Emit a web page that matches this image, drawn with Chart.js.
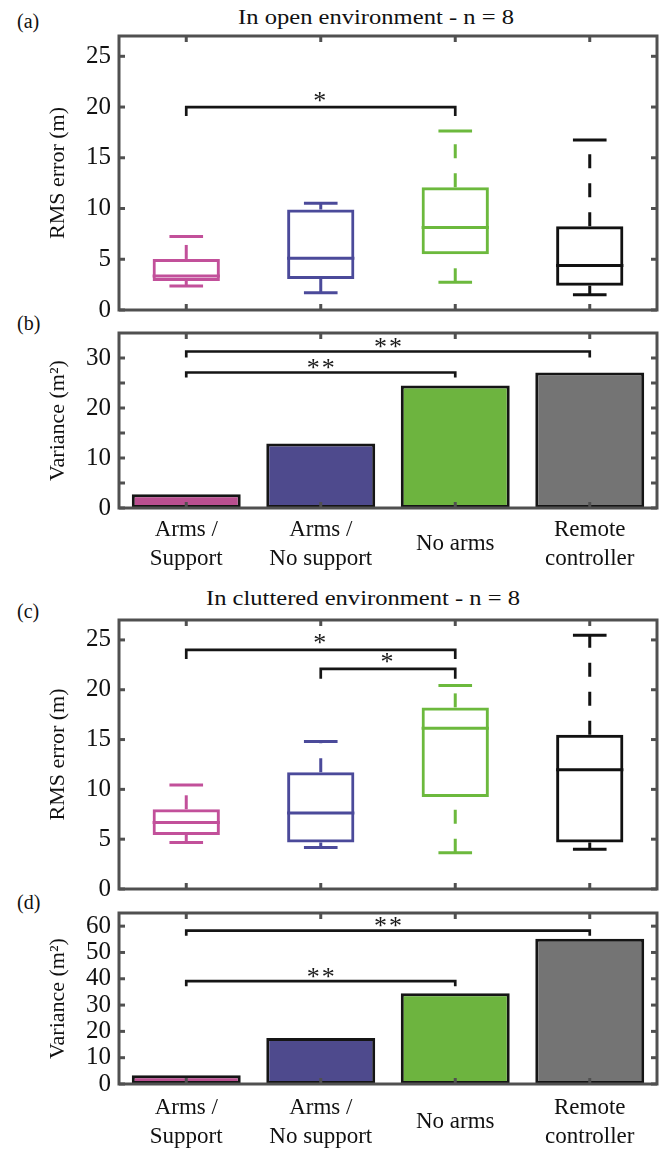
<!DOCTYPE html>
<html>
<head>
<meta charset="utf-8">
<script src="https://cdn.jsdelivr.net/npm/chart.js@4.4.1/dist/chart.umd.min.js"></script>
<style>
  body { margin: 0; background: #fff; }
  #fig { position: relative; width: 662px; height: 1150px; overflow: hidden; background: #fff;
         font-family: "Liberation Serif", "Times New Roman", serif; color: #111; }
  #fig canvas { position: absolute; left: 0; }
  .tag { position: absolute; font-size: 20px; line-height: 20px; }
  .ttl { position: absolute; font-size: 21px; line-height: 23px; white-space: nowrap;
         transform: translateX(-50%) scaleX(1.17); }
</style>
</head>
<body>
<div id="fig">
  <div class="tag" style="left:17px;top:11px">(a)</div>
  <div class="ttl" style="left:376px;top:6px">In open environment - n = 8</div>
  <div class="tag" style="left:17px;top:313px">(b)</div>
  <div class="tag" style="left:17px;top:601px">(c)</div>
  <div class="ttl" style="left:363px;top:587px">In cluttered environment - n = 8</div>
  <div class="tag" style="left:17px;top:892px">(d)</div>
  <canvas id="chart-a" width="662" height="333" style="top:0px"></canvas>
  <canvas id="chart-b" width="662" height="270" style="top:310px"></canvas>
  <canvas id="chart-c" width="662" height="332" style="top:580px"></canvas>
  <canvas id="chart-d" width="662" height="260" style="top:890px"></canvas>
</div>
<script>
const categories = [['Arms /', 'Support'], ['Arms /', 'No support'], 'No arms', ['Remote', 'controller']];

const boxColors = ['#c2509a', '#4b4a9a', '#6cb93d', '#111111'];
const barColors = ['#ba4f90', '#4e4a8d', '#6db43f', '#747474'];

// (a) open environment - RMS error (m)
const openLow    = [2.37, 1.71, 2.73, 1.51];
const openQ1     = [2.86, 3.06, 5.49, 2.40];
const openMedian = [3.36, 5.10, 8.12, 4.38];
const openQ3     = [5.03, 9.90, 12.10, 8.26];
const openHigh   = [7.24, 10.53, 17.63, 16.74];

// (b) open environment - variance (m2)
const openVariance = [2.73, 12.9, 24.5, 27.1];

// (c) cluttered environment - RMS error (m)
const clutLow    = [4.67, 4.17, 3.63, 4.00];
const clutQ1     = [5.43, 4.67, 9.23, 4.67];
const clutMedian = [6.67, 7.63, 16.13, 11.97];
const clutQ3     = [8.00, 11.73, 18.23, 15.47];
const clutHigh   = [10.43, 14.80, 20.43, 25.47];

// (d) cluttered environment - variance (m2)
const clutVariance = [3.3, 17.45, 34.5, 55.2];

// tick marks / tick labels
const rmsTicks      = [0, 5, 10, 15, 20, 25];
const openVarTicks  = [0, 5, 10, 15, 20, 25, 30];
const openVarLabels = [0, 10, 20, 30];
const clutVarTicks  = [0, 10, 20, 30, 40, 50, 60];

// significance brackets: [from category, to category, height, mark]
const openRmsSig = [[0, 2, 20.0, '*']];
const openVarSig = [[0, 3, 31.3, '**'], [0, 2, 27.1, '**']];
const clutRmsSig = [[0, 2, 24.0, '*'], [1, 2, 22.1, '*']];
const clutVarSig = [[0, 3, 58.3, '**'], [0, 2, 39.1, '**']];

const serif = '"Liberation Serif", "Times New Roman", serif';
const ink = '#111';

function seg(ctx, x1, y1, x2, y2) {
	ctx.beginPath();
	ctx.moveTo(x1, y1);
	ctx.lineTo(x2, y2);
	ctx.stroke();
}

// whiskers, medians, brackets and the matlab style box with inward ticks
const figureMarks = {
	id: 'figureMarks',
	afterDatasetsDraw(chart, args, opts) {
		const ctx = chart.ctx;
		const area = chart.chartArea;
		const xs = chart.scales.x, ys = chart.scales.y;
		const py = v => ys.getPixelForValue(v);
		ctx.save();
		ctx.lineCap = 'butt';

		if (opts.box) {
			const b = opts.box;
			const meta = chart.getDatasetMeta(0);
			b.median.forEach((m, i) => {
				const cx = xs.getPixelForValue(i);
				const w = meta.data[i].width;
				ctx.strokeStyle = b.colors[i];
				ctx.lineWidth = 3;
				seg(ctx, cx - w / 2, py(m), cx + w / 2, py(m));
				seg(ctx, cx - w / 4, py(b.low[i]), cx + w / 4, py(b.low[i]));
				seg(ctx, cx - w / 4, py(b.high[i]), cx + w / 4, py(b.high[i]));
				ctx.setLineDash([14, 15]);
				seg(ctx, cx, py(b.low[i]), cx, py(b.q1[i]));
				seg(ctx, cx, py(b.q3[i]), cx, py(b.high[i]));
				ctx.setLineDash([]);
			});
		}

		ctx.strokeStyle = '#151515';
		ctx.fillStyle = '#1a1a1a';
		ctx.lineWidth = 2.7;
		ctx.lineJoin = 'miter';
		ctx.font = '26px ' + serif;
		ctx.textAlign = 'center';
		ctx.textBaseline = 'alphabetic';
		ctx.letterSpacing = '2px';
		(opts.brackets || []).forEach(([a, c, v, mark], k) => {
			const x1 = xs.getPixelForValue(a), x2 = xs.getPixelForValue(c), yy = py(v);
			const drop = opts.drop[k];
			ctx.beginPath();
			ctx.moveTo(x1, yy + drop);
			ctx.lineTo(x1, yy);
			ctx.lineTo(x2, yy);
			ctx.lineTo(x2, yy + drop);
			ctx.stroke();
			ctx.fillText(mark, (x1 + x2) / 2 + (mark.length > 1 ? 1 : 0), yy + opts.starShift);
		});
		ctx.letterSpacing = '0px';

		// frame and inward ticks
		ctx.strokeStyle = '#505050';
		ctx.lineWidth = 3;
		ys.ticks.forEach(t => {
			const p = py(t.value);
			seg(ctx, area.left, p, area.left + 6, p);
			seg(ctx, area.right - 6, p, area.right, p);
		});
		categories.forEach((c, i) => {
			const p = xs.getPixelForValue(i);
			seg(ctx, p, area.top, p, area.top + 6);
			seg(ctx, p, area.bottom - 6, p, area.bottom);
		});
		ctx.strokeRect(area.left, area.top, area.right - area.left, area.bottom - area.top);
		ctx.restore();
	}
};

function yAxis(max, marks, labels, title) {
	return {
		min: 0,
		max: max,
		afterBuildTicks: s => { s.ticks = marks.map(v => ({ value: v })); },
		afterFit: s => { s.width = 119; },
		grid: { display: false, drawTicks: false },
		border: { display: false },
		ticks: {
			padding: 8,
			color: ink,
			autoSkip: false,
			font: { family: serif, size: 25 },
			callback: v => labels.includes(v) ? v : ''
		},
		title: {
			display: true,
			text: title,
			color: ink,
			font: { family: serif, size: 22 },
			padding: { top: 45, bottom: 0 }
		}
	};
}

function xAxis(show, pad, height) {
	return {
		type: 'category',
		offset: true,
		display: show,
		afterFit: s => { s.height = height; },
		grid: { display: false, drawTicks: false },
		border: { display: false },
		ticks: {
			padding: pad,
			color: ink,
			maxRotation: 0,
			autoSkip: false,
			crossAlign: 'center',
			font: { family: serif, size: 23, lineHeight: 1.24 }
		}
	};
}

function boxChart(id, low, q1, median, q3, high, sig, padding) {
	return new Chart(document.getElementById(id), {
		type: 'bar',
		data: {
			labels: categories,
			datasets: [{
				data: q1.map((v, i) => [v, q3[i]]),
				backgroundColor: 'rgba(0,0,0,0)',
				borderColor: boxColors,
				borderWidth: 3,
				borderSkipped: false,
				barPercentage: 0.5,
				categoryPercentage: 1.0
			}]
		},
		plugins: [figureMarks],
		options: {
			responsive: false,
			animation: false,
			events: [],
			layout: { padding: padding },
			scales: {
				x: xAxis(false, 0, 0),
				y: yAxis(27, rmsTicks, rmsTicks, 'RMS error (m)')
			},
			plugins: {
				legend: { display: false },
				tooltip: { enabled: false },
				figureMarks: {
					box: { low: low, median: median, high: high, q1: q1, q3: q3, colors: boxColors },
					brackets: sig,
					drop: [9, 10],
					starShift: 1.5
				}
			}
		}
	});
}

function barChart(id, values, max, marks, labels, sig, drop, padding, xPad, xHeight) {
	return new Chart(document.getElementById(id), {
		type: 'bar',
		data: {
			labels: categories,
			datasets: [{
				data: values,
				backgroundColor: barColors,
				borderColor: '#151515',
				borderWidth: 3,
				borderSkipped: false,
				barPercentage: 0.81,
				categoryPercentage: 1.0
			}]
		},
		plugins: [figureMarks],
		options: {
			responsive: false,
			animation: false,
			events: [],
			layout: { padding: padding },
			scales: {
				x: xAxis(true, xPad, xHeight),
				y: yAxis(max, marks, labels, 'Variance (m\u00B2)')
			},
			plugins: {
				legend: { display: false },
				tooltip: { enabled: false },
				figureMarks: { brackets: sig, drop: drop, starShift: 3.5 }
			}
		}
	});
}

boxChart('chart-a', openLow, openQ1, openMedian, openQ3, openHigh, openRmsSig,
	{ top: 36, right: 5, bottom: 23, left: 0 });
barChart('chart-b', openVariance, 35, openVarTicks, openVarLabels, openVarSig, [6, 5],
	{ top: 23, right: 5, bottom: 8, left: 0 }, 22, 64);
boxChart('chart-c', clutLow, clutQ1, clutMedian, clutQ3, clutHigh, clutRmsSig,
	{ top: 40, right: 5, bottom: 23, left: 0 });
barChart('chart-d', clutVariance, 65, clutVarTicks, clutVarTicks, clutVarSig, [5, 5],
	{ top: 23, right: 5, bottom: 0, left: 0 }, 24, 66);
</script>
</body>
</html>
